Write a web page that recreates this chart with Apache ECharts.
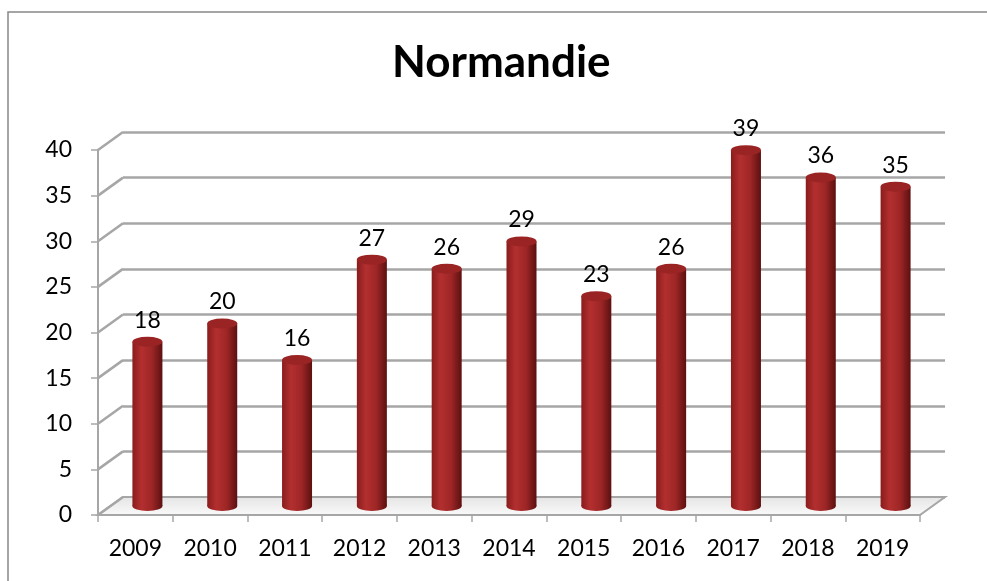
<!DOCTYPE html>
<html>
<head>
<meta charset="utf-8">
<script src="https://cdn.jsdelivr.net/npm/echarts@6/dist/echarts.min.js"></script>
<style>
html,body{margin:0;padding:0;background:#fff}
#main{width:987px;height:581px}
</style>
</head>
<body>
<div id="main"></div>
<script>
// données
var years = ['2009','2010','2011','2012','2013','2014','2015','2016','2017','2018','2019'];
var counts = [18,20,16,27,26,29,23,26,39,36,35];
var yTicks = [0,5,10,15,20,25,30,35,40];

// décalage de profondeur (plan avant -> mur du fond)
var DX = 25, DY = -18;
var gridColor = '#a6a6a6';
var font = 'Lato';

var barColor = new echarts.graphic.LinearGradient(0,0,1,0,[
    {offset:0, color:'#8a1c1c'},
    {offset:0.3, color:'#b32f2f'},
    {offset:0.65, color:'#9e2626'},
    {offset:1, color:'#5c1010'}
]);

var option = {
    animation:false,
    textStyle:{fontFamily:font},
    title:{
        text:'Normandie',
        left:387,
        top:36,
        textStyle:{fontSize:44,fontWeight:'bold',color:'#000',fontFamily:font}
    },
    graphic:[{
        type:'rect',
        shape:{x:8,y:12,width:1100,height:700},
        style:{fill:null,stroke:'#888',lineWidth:1.5},
        silent:true
    }],
    grid:[
        {left:98,right:67,top:150,bottom:66},   // plan avant (axes)
        {left:123,right:42,top:132,bottom:84},  // mur du fond
        {left:110,right:54,top:141,bottom:75}   // plan des barres
    ],
    xAxis:[
        {
            gridIndex:0,type:'category',data:years,
            axisLine:{lineStyle:{color:gridColor,width:2}},
            axisTick:{show:true,length:7,lineStyle:{color:gridColor,width:1.5}},
            axisLabel:{fontSize:23,color:'#000',margin:22,fontFamily:font}
        },
        {gridIndex:1,type:'category',data:years,show:false},
        {gridIndex:2,type:'category',data:years,show:false}
    ],
    yAxis:[
        {
            gridIndex:0,type:'value',min:0,max:40,interval:5,
            axisLine:{show:true,lineStyle:{color:gridColor,width:2}},
            axisTick:{show:true,length:7,lineStyle:{color:gridColor,width:1.5}},
            splitLine:{show:false},
            axisLabel:{fontSize:23,color:'#000',margin:26,fontFamily:font}
        },
        {
            gridIndex:1,type:'value',min:0,max:40,interval:5,
            axisLine:{show:false},axisTick:{show:false},axisLabel:{show:false},
            splitLine:{show:true,lineStyle:{color:gridColor,width:2.5}}
        },
        {gridIndex:2,type:'value',min:0,max:40,interval:5,show:false,splitLine:{show:false}}
    ],
    series:[
        {
            // sol
            type:'custom',xAxisIndex:0,yAxisIndex:0,silent:true,z:1,
            data:[[0,0]],
            renderItem:function(params,api){
                var half = api.size([1,0])[0]/2;
                var p0 = api.coord([0,0]);
                var p1 = api.coord([years.length-1,0]);
                var l = p0[0]-half, r = p1[0]+half, y = p0[1];
                return {
                    type:'polygon',
                    shape:{points:[[l,y],[r,y],[r+DX,y+DY],[l+DX,y+DY]]},
                    style:{
                        fill:new echarts.graphic.LinearGradient(0,0,0,1,[
                            {offset:0,color:'#e4e4e4'},{offset:1,color:'#fafafa'}
                        ]),
                        stroke:gridColor,lineWidth:2
                    }
                };
            }
        },
        {
            // traits obliques entre l'axe avant et le mur du fond
            type:'custom',xAxisIndex:0,yAxisIndex:0,silent:true,z:2,
            data:yTicks.map(function(v){return [0,v];}),
            renderItem:function(params,api){
                var half = api.size([1,0])[0]/2;
                var p = api.coord([0,api.value(1)]);
                var x = p[0]-half;
                return {
                    type:'line',
                    shape:{x1:x,y1:p[1],x2:x+DX,y2:p[1]+DY},
                    style:{stroke:gridColor,lineWidth:2.5}
                };
            }
        },
        {
            name:'Normandie',type:'bar',xAxisIndex:2,yAxisIndex:2,
            data:counts,barWidth:30,z:3,
            itemStyle:{color:barColor},
            label:{show:true,position:'top',distance:10,fontSize:23,color:'#000',fontFamily:font}
        },
        {
            // haut du cylindre
            type:'pictorialBar',xAxisIndex:2,yAxisIndex:2,
            data:counts,symbol:'circle',symbolSize:[30,10],
            symbolPosition:'end',symbolOffset:[0,'-50%'],z:4,
            itemStyle:{color:'#9a2424'}
        },
        {
            // bas du cylindre
            type:'pictorialBar',xAxisIndex:2,yAxisIndex:2,
            data:counts,symbol:'circle',symbolSize:[30,10],
            symbolPosition:'start',symbolOffset:[0,'50%'],z:3,
            itemStyle:{color:barColor}
        }
    ]
};

var myChart = echarts.init(document.getElementById('main'));
myChart.setOption(option);
</script>
</body>
</html>
